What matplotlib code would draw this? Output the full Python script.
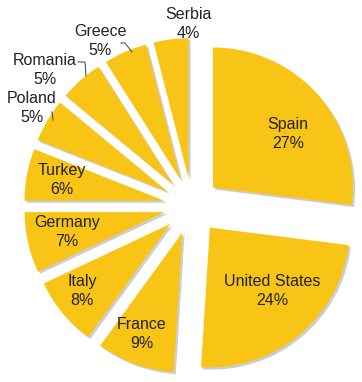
import matplotlib.pyplot as plt
import matplotlib.patheffects as pe

countries = ['Spain', 'United States', 'France', 'Italy', 'Germany',
             'Turkey', 'Poland', 'Romania', 'Greece', 'Serbia']
shares = [27, 24, 9, 8, 7, 6, 5, 5, 5, 4]

# pixel geometry of the reference image (y measured from the top)
W, H = 362, 382
CX, CY = 192, 206
R = 140.0
GAP = 28.0


def to_data(px, py):
    return (px - CX) / R, (CY - py) / R


# label centres in pixel coords
label_pos = [(288, 134), (272, 291), (142, 334), (82, 291), (67, 232),
             (62, 180), (32, 108), (45, 70), (100, 41), (188, 24)]

# leader lines for the small outside labels (pixel coords)
leaders = [
    [(52, 112), (53, 120)],
    [(78, 62), (85, 62), (86, 76)],
    [(121, 43), (125, 43), (132, 52)],
]

fig = plt.figure(figsize=(W / 100, H / 100), dpi=100)
ax = fig.add_axes([0, 0, 1, 1])

wedges, _ = ax.pie(shares, startangle=90, counterclock=False,
                   explode=[GAP / R] * len(shares), radius=1.0,
                   colors=['#F8C416'] * len(shares),
                   wedgeprops=dict(linewidth=0))
for w in wedges:
    w.set_path_effects([pe.SimplePatchShadow(offset=(1.5, -1.5),
                                             shadow_rgbFace='#7d8798',
                                             alpha=0.4),
                        pe.Normal()])

for name, val, (px, py) in zip(countries, shares, label_pos):
    x, y = to_data(px, py)
    ax.text(x, y, f'{name}\n{val}%', ha='center', va='center',
            fontsize=11.5, family='Liberation Sans', color='#222222',
            linespacing=1.35)

for pts in leaders:
    xs, ys = zip(*[to_data(px, py) for px, py in pts])
    ax.plot(xs, ys, color='#555555', linewidth=0.8)

ax.set_xlim(-CX / R, (W - CX) / R)
ax.set_ylim(-(H - CY) / R, CY / R)
ax.set_aspect('equal')
ax.axis('off')

plt.savefig('out.png', dpi=100)
